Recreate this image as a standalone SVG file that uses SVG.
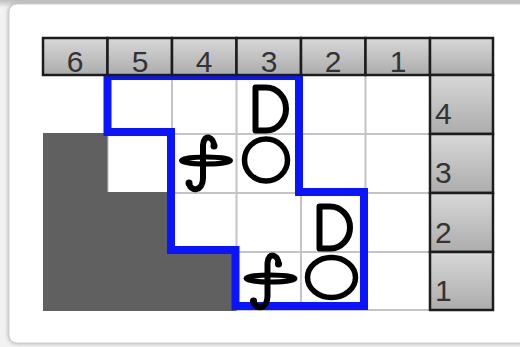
<svg xmlns="http://www.w3.org/2000/svg" width="520" height="347" viewBox="0 0 520 347">
<defs>
<linearGradient id="hdr" x1="0" y1="0" x2="0" y2="1">
<stop offset="0" stop-color="#d8d8d8"/>
<stop offset="1" stop-color="#acacac"/>
</linearGradient>
<linearGradient id="bgtop" x1="0" y1="0" x2="0" y2="1">
<stop offset="0" stop-color="#bdbdbd"/>
<stop offset="1" stop-color="#f4f4f4"/>
</linearGradient>
<filter id="sh" x="-5%" y="-5%" width="110%" height="110%">
<feGaussianBlur stdDeviation="2.5"/>
</filter>
<g id="fsym">
<ellipse cx="0" cy="0" rx="24.5" ry="3.5" stroke-width="5"/>
<path d="M8,-14.5 C8,-23.5 -2,-27.5 -3,-15.5 L-3,17.5 C-3,31.5 -16,31.5 -17,22.5" stroke-width="6"/>
<circle cx="8" cy="-14.5" r="3.5" class="dot"/>
<circle cx="-17" cy="22.5" r="3.5" class="dot"/>
</g>
</defs>
<style>
.cell{fill:url(#hdr);stroke:#1c1c1c;stroke-width:2.5}
.lbl{font-family:"Liberation Sans",Arial,sans-serif;font-size:30px;fill:#333}
.grid{stroke:#c4c4c4;stroke-width:2;fill:none}
.sym{fill:none;stroke:#000;stroke-width:5.5;stroke-linecap:round;stroke-linejoin:round}
.dsym{stroke-width:6}
.dot{fill:#000;stroke:none}
</style>
<rect x="0" y="0" width="520" height="347" fill="#f2f2f2"/>
<rect x="0" y="0" width="520" height="8" fill="url(#bgtop)"/>
<rect x="9" y="4" width="540" height="339" rx="8" fill="#9a9a9a" filter="url(#sh)"/>
<rect x="9" y="4" width="540" height="339" rx="8" fill="#ffffff" stroke="#cfcfcf" stroke-width="1"/>

<g id="board">
<rect x="43" y="75" width="387" height="235" fill="#ffffff"/>
<g class="grid">
<path d="M107.5,75 V310 M172,75 V310 M236.5,75 V310 M301,75 V310 M365.5,75 V310"/>
<path d="M43,134 H430 M43,193 H430 M43,252 H430 M43,310 H430"/>
</g>
<path d="M43,133 H107.5 V192 H172 V251 H236.5 V311 H43 Z" fill="#606060"/>
</g>

<g id="connectors">
<path d="M107.5,76 V132 H171 V250 H235.5 V306 H364 V192 H299 V76 Z" fill="none" stroke="#0a14ff" stroke-width="8" stroke-linejoin="miter"/>
</g>

<g id="pieces" class="sym">
<g id="d1"><path class="dsym" d="M255.5,87.5 H266 A20,21.5 0 0 1 266,130.5 H255.5 Z"/></g>
<g id="o1"><ellipse cx="266" cy="160" rx="21.5" ry="21"/></g>
<g id="f1"><use href="#fsym" x="206" y="160.5"/></g>
<g id="d2"><path class="dsym" d="M319.5,206.5 H330 A20,21 0 0 1 330,248.5 H319.5 Z"/></g>
<g id="o2"><ellipse cx="331.5" cy="277.5" rx="24" ry="20"/></g>
<g id="f2"><use href="#fsym" x="270.5" y="278.5"/></g>
</g>

<g id="header">
<rect class="cell" x="43" y="38" width="64.5" height="37"/>
<rect class="cell" x="107.5" y="38" width="64.5" height="37"/>
<rect class="cell" x="172" y="38" width="64.5" height="37"/>
<rect class="cell" x="236.5" y="38" width="64.5" height="37"/>
<rect class="cell" x="301" y="38" width="64.5" height="37"/>
<rect class="cell" x="365.5" y="38" width="64.5" height="37"/>
<rect class="cell" x="430" y="38" width="63" height="37"/>
<g class="lbl" text-anchor="middle">
<text x="75" y="72">6</text>
<text x="140" y="72">5</text>
<text x="204" y="72">4</text>
<text x="269" y="72">3</text>
<text x="333" y="72">2</text>
<text x="398" y="72">1</text>
</g>
</g>

<g id="rows">
<rect class="cell" x="430" y="75" width="63" height="59"/>
<rect class="cell" x="430" y="134" width="63" height="59"/>
<rect class="cell" x="430" y="193" width="63" height="59"/>
<rect class="cell" x="430" y="252" width="63" height="58"/>
<g class="lbl">
<text x="435" y="124">4</text>
<text x="435" y="183">3</text>
<text x="435" y="243">2</text>
<text x="435" y="301">1</text>
</g>
</g>
</svg>
